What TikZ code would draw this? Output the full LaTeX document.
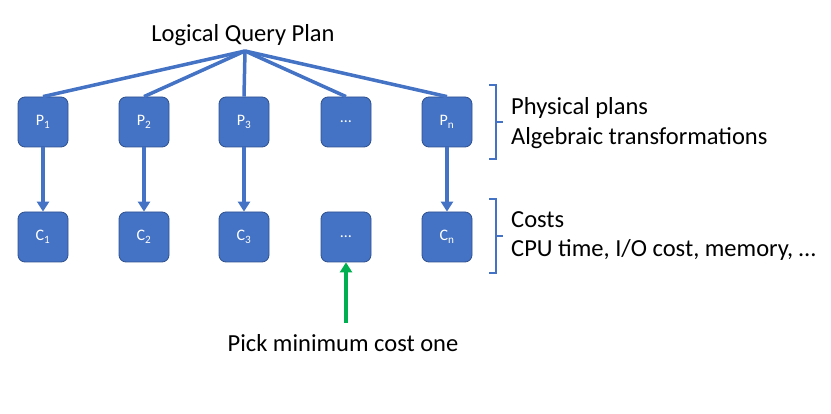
\documentclass[tikz,border=0pt]{standalone}
\usepackage{fontspec}
\setmainfont{Carlito}
\usetikzlibrary{arrows.meta}
\definecolor{obl}{HTML}{4472C4}
\definecolor{obd}{HTML}{2F528F}
\definecolor{ogr}{HTML}{00B050}
\tikzset{
  planbox/.style={draw=obd, line width=0.8pt, fill=obl, rounded corners=7pt, minimum width=50pt, minimum height=50pt, inner sep=0pt, text=white, font=\fontsize{16}{18}\selectfont},
  link/.style={draw=obl, line width=3.5pt},
  arr/.style={draw=obl, line width=3.5pt, -{Triangle[length=10pt,width=12pt]}},
  garr/.style={draw=ogr, line width=3.5pt, -{Triangle[length=10pt,width=12pt]}},
  brk/.style={draw=obl, line width=2pt},
  big/.style={font=\fontsize{24.5}{29}\selectfont, text=black, inner sep=0pt},
  lbl/.style={big, anchor=base west},
}
\begin{document}
\begin{tikzpicture}[x=1pt,y=1pt]
\useasboundingbox (0,0) rectangle (831,-414);
\node[big, anchor=base] (lqp) at (243,-42) {Logical Query Plan};
\coordinate (apex) at (245,-51);
\foreach \n/\x/\t in {1/43/{P\textsubscript{1}},2/144/{P\textsubscript{2}},3/244/{P\textsubscript{3}},4/346/{…},5/447/{P\textsubscript{n}}}{
  \node[planbox] (p\n) at (\x,-122) {\t};
}
\foreach \n/\x/\t in {1/43/{C\textsubscript{1}},2/144/{C\textsubscript{2}},3/244/{C\textsubscript{3}},4/346/{…},5/447/{C\textsubscript{n}}}{
  \node[planbox] (c\n) at (\x,-237) {\t};
}
\foreach \n in {1,...,5}{
  \draw[link] (apex) -- (p\n.north);
}
\foreach \n in {1,2,3,5}{
  \draw[arr] (p\n.south) -- (c\n.north);
}
\coordinate (gstart) at (346,-323);
\draw[garr] (gstart) -- (c4.south);
\node[big, anchor=base] (pick) at (343,-352) {Pick minimum cost one};
% brackets
\draw[brk] (489,-85) -- (496,-85) -- (496,-159) -- (489,-159);
\draw[brk] (496,-122) -- (503,-122);
\draw[brk] (489,-199) -- (496,-199) -- (496,-273) -- (489,-273);
\draw[brk] (496,-236) -- (503,-236);
\node[lbl] (t1) at (511,-115) {Physical plans};
\node[lbl] (t2) at (511,-145) {Algebraic transformations};
\node[lbl] (t3) at (511,-228) {Costs};
\node[lbl] (t4) at (511,-257) {CPU time, I/O cost, memory, …};
\end{tikzpicture}
\end{document}
